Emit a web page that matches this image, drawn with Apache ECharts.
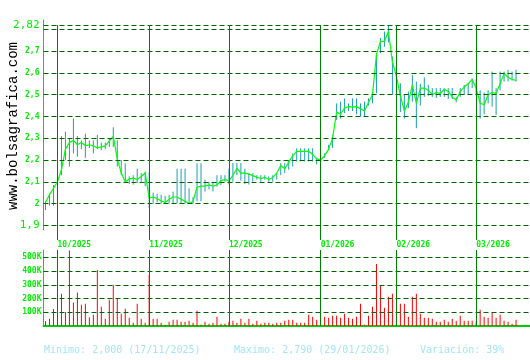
<!DOCTYPE html>
<html><head><meta charset="utf-8">
<script src="https://cdn.jsdelivr.net/npm/echarts@6/dist/echarts.min.js"></script>
<style>html,body{margin:0;padding:0;background:#fff}#c{width:530px;height:360px}</style>
</head><body><div id="c"></div>
<script>
// ---- data ----
const monthIdx = [3, 26, 46, 69, 88, 108];
const monthLabels = ['10/2025', '11/2025', '12/2025', '01/2026', '02/2026', '03/2026'];
const closes = [2.005,2.04,2.07,2.10,2.155,2.25,2.28,2.29,2.27,2.28,
  2.265,2.27,2.265,2.255,2.26,2.265,2.288,2.308,2.205,2.14,
  2.10,2.113,2.117,2.11,2.124,2.14,2.025,2.03,2.022,2.012,
  2.005,2.02,2.03,2.03,2.02,2.01,2.00,2.01,2.075,2.08,
  2.08,2.085,2.08,2.085,2.105,2.11,2.105,2.13,2.162,2.14,
  2.14,2.135,2.128,2.12,2.115,2.12,2.11,2.12,2.14,2.175,
  2.16,2.19,2.22,2.24,2.24,2.24,2.24,2.225,2.205,2.20,
  2.22,2.25,2.30,2.42,2.41,2.44,2.445,2.443,2.445,2.435,
  2.425,2.465,2.50,2.685,2.745,2.745,2.79,2.65,2.585,2.495,
  2.425,2.465,2.545,2.46,2.53,2.53,2.52,2.50,2.51,2.505,
  2.525,2.515,2.49,2.475,2.515,2.535,2.55,2.57,2.53,2.46,
  2.455,2.50,2.51,2.506,2.55,2.598,2.58,2.57,2.565];
const highs = [2.01,2.045,2.085,2.10,2.31,2.33,2.30,2.39,2.31,2.29,
  2.32,2.29,2.29,2.315,2.28,2.28,2.30,2.35,2.29,2.20,
  2.185,2.125,2.13,2.16,2.14,2.147,2.145,2.05,2.045,2.04,
  2.035,2.04,2.055,2.16,2.16,2.16,2.07,2.03,2.185,2.185,
  2.11,2.10,2.10,2.13,2.13,2.13,2.16,2.186,2.186,2.186,
  2.16,2.14,2.14,2.13,2.13,2.13,2.125,2.13,2.14,2.186,
  2.186,2.20,2.23,2.254,2.254,2.254,2.254,2.254,2.21,2.205,
  2.23,2.27,2.315,2.46,2.468,2.483,2.46,2.483,2.483,2.46,
  2.468,2.483,2.50,2.69,2.76,2.79,2.82,2.675,2.63,2.552,
  2.50,2.514,2.59,2.56,2.55,2.58,2.545,2.53,2.53,2.53,
  2.53,2.53,2.53,2.49,2.53,2.545,2.555,2.575,2.57,2.52,
  2.51,2.52,2.606,2.53,2.606,2.606,2.614,2.606,2.614];
const lows = [1.97,1.99,1.99,2.02,2.13,2.20,2.17,2.23,2.215,2.25,
  2.21,2.255,2.23,2.25,2.245,2.25,2.26,2.26,2.17,2.13,
  2.095,2.09,2.087,2.094,2.10,2.08,1.98,2.00,2.005,2.00,
  2.00,2.00,2.00,2.00,2.00,2.00,2.00,2.00,2.01,2.01,
  2.055,2.065,2.055,2.078,2.085,2.10,2.087,2.10,2.13,2.105,
  2.09,2.087,2.10,2.11,2.10,2.11,2.10,2.10,2.11,2.13,
  2.14,2.155,2.17,2.193,2.193,2.193,2.193,2.193,2.18,2.19,
  2.21,2.245,2.255,2.384,2.39,2.415,2.425,2.425,2.41,2.40,
  2.40,2.45,2.46,2.506,2.69,2.72,2.74,2.50,2.575,2.42,
  2.39,2.438,2.468,2.346,2.45,2.49,2.495,2.49,2.485,2.49,
  2.49,2.48,2.48,2.465,2.49,2.50,2.50,2.53,2.50,2.39,
  2.41,2.46,2.445,2.407,2.52,2.56,2.56,2.565,2.56];
const volumesK = [34,53,123,46,234,101,550,171,244,155,
  162,63,82,408,140,53,191,300,203,89,
  126,60,24,162,53,24,372,53,53,24,
  10,31,46,46,31,31,39,24,111,10,
  31,17,24,68,17,17,31,39,24,53,
  24,53,17,39,17,24,24,17,24,24,
  39,46,46,24,24,24,82,68,46,46,
  68,60,75,75,60,89,60,53,68,162,
  10,75,140,452,292,133,213,234,89,162,
  162,68,213,234,89,60,60,53,31,31,
  46,31,53,39,75,39,39,39,31,118,
  68,60,97,60,82,39,31,17,46];
const priceTickVals = [1.9, 2, 2.1, 2.2, 2.3, 2.4, 2.5, 2.6, 2.7, 2.82];
const priceTickLabels = ['1,9', '2', '2,1', '2,2', '2,3', '2,4', '2,5', '2,6', '2,7', '2,82'];
const priceGridVals = [1.9, 2, 2.1, 2.2, 2.3, 2.4, 2.5, 2.6, 2.7, 2.8, 2.82];
const volTickVals = [100, 200, 300, 400, 500];
const volTickLabels = ['100K', '200K', '300K', '400K', '500K'];
const summaryTexts = ['Minimo: 2,000 (17/11/2025)', 'Maximo: 2,790 (29/01/2026)', 'Variación: 39%'];
const watermark = 'www.bolsagrafica.com';
const N_SLOTS = 122;

// ---- chart ----
const cats = Array.from({length: N_SLOTS}, (_, i) => String(i));
const P_MIN = 1.8325, P_MAX = 2.843, P_TOP_LINE = 2.82;
const V_MAX = 553;
const MONO = 'DejaVu Sans Mono';
const LBL = '#00ee00';
const DASH = '#006400';
const MONTH = '#007f00';

const priceGridLines = priceGridVals.map(v => ({yAxis: v, lineStyle: {type: [5, 3], color: DASH, width: 1}}));
const priceMonthLines = monthIdx.map(i => [{coord: [cats[i], P_TOP_LINE], lineStyle: {type: 'solid', color: MONTH, width: 1}}, {coord: [cats[i], P_MIN]}]);
const volGridLines = volTickVals.map(v => ({yAxis: v, lineStyle: {type: [5, 3], color: DASH, width: 1}}));
const volMonthLines = monthIdx.map(i => [{coord: [cats[i], V_MAX], lineStyle: {type: 'solid', color: MONTH, width: 1}}, {coord: [cats[i], 0]}]);

const chart = echarts.init(document.getElementById('c'), null, {renderer: 'canvas'});
chart.setOption({
  animation: false,
  backgroundColor: '#ffffff',
  title: summaryTexts.map((t, k) => ({
    text: t, left: [44, 234, 420][k], top: 345, padding: 0,
    textStyle: {color: '#a3e6f5', fontSize: 10, fontWeight: 'normal', fontFamily: MONO}
  })),
  graphic: [{
    type: 'text', x: 13, y: 126, rotation: Math.PI / 2,
    style: {text: watermark, fill: '#000', font: '14px "Liberation Mono"', textAlign: 'center', textVerticalAlign: 'middle'}
  }],
  grid: [
    {left: 43.5, top: 20, width: 488, height: 220},
    {left: 43.5, top: 250, width: 488, height: 76},
    {left: 43.5, top: 20, width: 1, height: 210}
  ],
  xAxis: [
    {type: 'category', gridIndex: 0, data: cats, boundaryGap: true,
     axisLine: {show: false}, axisTick: {show: false}, splitLine: {show: false},
     axisLabel: {interval: (i) => monthIdx.includes(i), formatter: (v, i) => monthLabels[monthIdx.indexOf(i)] || '',
       align: 'left', margin: 1, color: LBL, fontSize: 8, fontWeight: 'bold', fontFamily: MONO}},
    {type: 'category', gridIndex: 1, data: cats, boundaryGap: true,
     axisLine: {show: true, lineStyle: {color: '#00cc00', width: 2}}, axisTick: {show: false},
     axisLabel: {show: false}, splitLine: {show: false}},
    {type: 'value', gridIndex: 2, show: false}
  ],
  yAxis: [
    {type: 'value', gridIndex: 0, min: P_MIN, max: P_MAX,
     axisLine: {show: false}, axisTick: {show: false}, splitLine: {show: false},
     axisLabel: {customValues: priceTickVals, margin: 4, color: LBL, fontFamily: MONO, fontSize: 8, fontWeight: 'bold',
       formatter: (v) => {
         const k = priceTickVals.findIndex(t => Math.abs(t - v) < 1e-6);
         if (k < 0) return '';
         const s = priceTickLabels[k];
         return (k === 0 || k === priceTickVals.length - 1) ? '{b|' + s + '}' : s;
       },
       rich: {b: {fontSize: 11, fontWeight: 'normal', fontFamily: MONO, color: LBL}}}},
    {type: 'value', gridIndex: 1, min: 0, max: V_MAX,
     axisLine: {show: true, lineStyle: {color: '#00dd00', width: 1}}, axisTick: {show: false}, splitLine: {show: false},
     axisLabel: {customValues: volTickVals, margin: 2, color: LBL, fontFamily: MONO, fontSize: 8, fontWeight: 'bold',
       formatter: (v) => { const k = volTickVals.indexOf(v); return k < 0 ? '' : volTickLabels[k]; }}},
    {type: 'value', gridIndex: 2, min: 0, max: 1,
     axisLine: {show: true, lineStyle: {color: '#00dd00', width: 1}}, axisTick: {show: false},
     axisLabel: {show: false}, splitLine: {show: false}}
  ],
  series: [
    {type: 'line', xAxisIndex: 0, yAxisIndex: 0, data: [], z: 1, silent: true,
     markLine: {silent: true, symbol: ['none', 'none'], label: {show: false}, animation: false,
       data: priceGridLines.concat(priceMonthLines)}},
    {type: 'custom', xAxisIndex: 0, yAxisIndex: 0, z: 3, silent: true,
     data: highs.map((h, i) => [i, lows[i], h]),
     encode: {x: 0, y: [1, 2]},
     renderItem: (params, api) => {
       const a = api.coord([api.value(0), api.value(1)]);
       const b = api.coord([api.value(0), api.value(2)]);
       return {type: 'line', shape: {x1: a[0], y1: a[1], x2: b[0], y2: b[1]},
               style: {stroke: '#1a9fb3', lineWidth: 1}};
     }},
    {type: 'line', xAxisIndex: 0, yAxisIndex: 0, data: closes, z: 4, symbol: 'none', silent: true,
     lineStyle: {color: '#00ff00', width: 1.2}},
    {type: 'line', xAxisIndex: 1, yAxisIndex: 1, data: [], z: 1, silent: true,
     markLine: {silent: true, symbol: ['none', 'none'], label: {show: false}, animation: false,
       data: volGridLines.concat(volMonthLines)}},
    {type: 'bar', xAxisIndex: 1, yAxisIndex: 1, data: volumesK, barWidth: 1, z: 3, silent: true,
     itemStyle: {color: '#ff0000'}}
  ]
});
</script></body></html>
